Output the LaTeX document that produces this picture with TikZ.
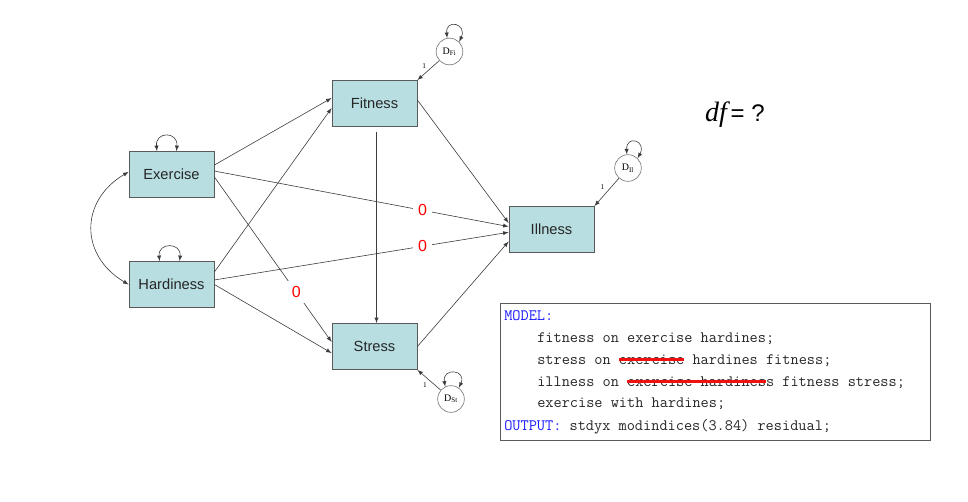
\documentclass[tikz,border=0pt]{standalone}
\usepackage{fontspec}
\setmainfont{Liberation Sans}
\newfontfamily\timesfont{Liberation Serif}
\usetikzlibrary{arrows}
\newlength\strikelen
\newcommand\redstrike[1]{\settowidth\strikelen{#1}#1\llap{\textcolor{strikered}{\rule[0.22em]{\strikelen}{1.8pt}}}}
\begin{document}
\begin{tikzpicture}[x=0.75pt,y=0.75pt,
  varbox/.style={draw=boxline,fill=boxfill,line width=0.6pt,minimum width=63.75pt,minimum height=34.5pt,inner sep=0pt,text=black!85,font=\fontsize{11}{13}\selectfont},
  errc/.style={circle,draw=black!55,line width=0.45pt,minimum size=20pt,inner sep=0pt,font=\timesfont\fontsize{7.5}{8}\selectfont},
  effect/.style={draw=arrowgray,line width=0.45pt,-latex},
  twoway/.style={draw=arrowgray,line width=0.45pt,latex-latex},
  zero/.style={fill=white,text=red,inner sep=4pt,font=\fontsize{12}{13}\selectfont},
  one/.style={font=\timesfont\fontsize{5.5}{6}\selectfont,inner sep=1.5pt},
  codeline/.style={anchor=base west,inner sep=0pt,text=black!85,font=\ttfamily\fontsize{11.9}{14}\selectfont}]
 \definecolor{boxfill}{HTML}{B8DEE1}
 \definecolor{boxline}{HTML}{5A5A5A}
 \definecolor{arrowgray}{HTML}{3C3C3C}
 \definecolor{codeblue}{HTML}{1A1AFF}
 \definecolor{strikered}{HTML}{F01010}
 \useasboundingbox (0,0) rectangle (968,501);
 % observed variables
 \node[varbox] (exer) at (171.5,326.5) {Exercise};
 \node[varbox] (hard) at (171.5,216.5) {Hardiness};
 \node[varbox] (fit) at (374.5,397.5) {Fitness};
 \node[varbox] (str) at (374.5,154.5) {Stress};
 \node[varbox] (ill) at (551.5,271.5) {Illness};
 % disturbances
 \node[errc] (dfi) at (449.5,449.5) {D\textsubscript{Fi}};
 \node[errc] (dil) at (628,333) {D\textsubscript{Il}};
 \node[errc] (dst) at (451,102) {D\textsubscript{St}};
 \draw[effect] (dfi) -- node[one,above left] (ofi) {1} (fit.north east);
 \draw[effect] (dil) -- node[one,above left] (oil) {1} (ill.north east);
 \draw[effect] (dst) -- node[one,below left] (ost) {1} (str.south east);
 \draw[twoway] (dfi.100) .. controls +(95:20) and +(65:20) .. (dfi.45);
 \draw[twoway] (dil.95) .. controls +(92:20) and +(62:20) .. (dil.45);
 \draw[twoway] (dst.115) .. controls +(100:20) and +(65:20) .. (dst.55);
 % variances and covariance
 \draw[twoway] ([xshift=-10.9pt]exer.north) .. controls +(-2,20) and +(2,20) .. ([xshift=3.7pt]exer.north);
 \draw[twoway] ([xshift=-8.9pt]hard.north) .. controls +(-2,19) and +(2,19) .. ([xshift=6.1pt]hard.north);
 \draw[twoway] ([yshift=2pt]exer.west) .. controls +(-49,-29) and +(-49,29) .. ([yshift=0pt]hard.west);
 % paths
 \draw[effect] ([yshift=7.1pt]exer.east) -- ([yshift=4.1pt]fit.west);
 \draw[effect] ([yshift=9.4pt]hard.east) -- ([yshift=-3.4pt]fit.west);
 \draw[effect] ([yshift=2.6pt]exer.east) -- node[zero,pos=0.708] (z1) {0} ([yshift=2.2pt]ill.west);
 \draw[effect] ([yshift=3.4pt]hard.east) -- node[zero,pos=0.708] (z2) {0} ([yshift=-2.1pt]ill.west);
 \draw[effect] ([yshift=-1.9pt]exer.east) -- node[zero,pos=0.7] (z3) {0} ([yshift=3.4pt]str.west);
 \draw[effect] (hard.east) -- ([yshift=-4.9pt]str.west);
 \draw[effect,shorten <=3.5pt] ([xshift=1.5pt]fit.south) -- ([xshift=1.5pt]str.north);
 \draw[effect] ([yshift=2.6pt]fit.east) -- ([yshift=4.9pt]ill.west);
 \draw[effect] (str.east) -- ([yshift=-9pt]ill.west);
 % degrees of freedom
 \node (df) at (735,386) {{\timesfont\itshape\fontsize{21}{22}\selectfont df}\ {\fontsize{18}{20}\selectfont= ?}};
 % Mplus input
 \node[draw=boxline,line width=0.9pt,minimum width=322.5pt,minimum height=102.75pt,anchor=north west,inner sep=0pt] (code) at (500,198) {};
 \node[codeline,text=codeblue] (m1) at (504,181) {MODEL:};
 \node[codeline] (m2) at (537,159) {fitness on exercise hardines;};
 \node[codeline] (m3) at (537,137) {stress on \redstrike{exercise} hardines fitness;};
 \node[codeline] (m4) at (537,115) {illness on \redstrike{exercise hardines}s fitness stress;};
 \node[codeline] (m5) at (537,94) {exercise with hardines;};
 \node[codeline] (m6) at (504,71) {\textcolor{codeblue}{OUTPUT:} stdyx modindices(3.84) residual;};
\end{tikzpicture}
\end{document}
